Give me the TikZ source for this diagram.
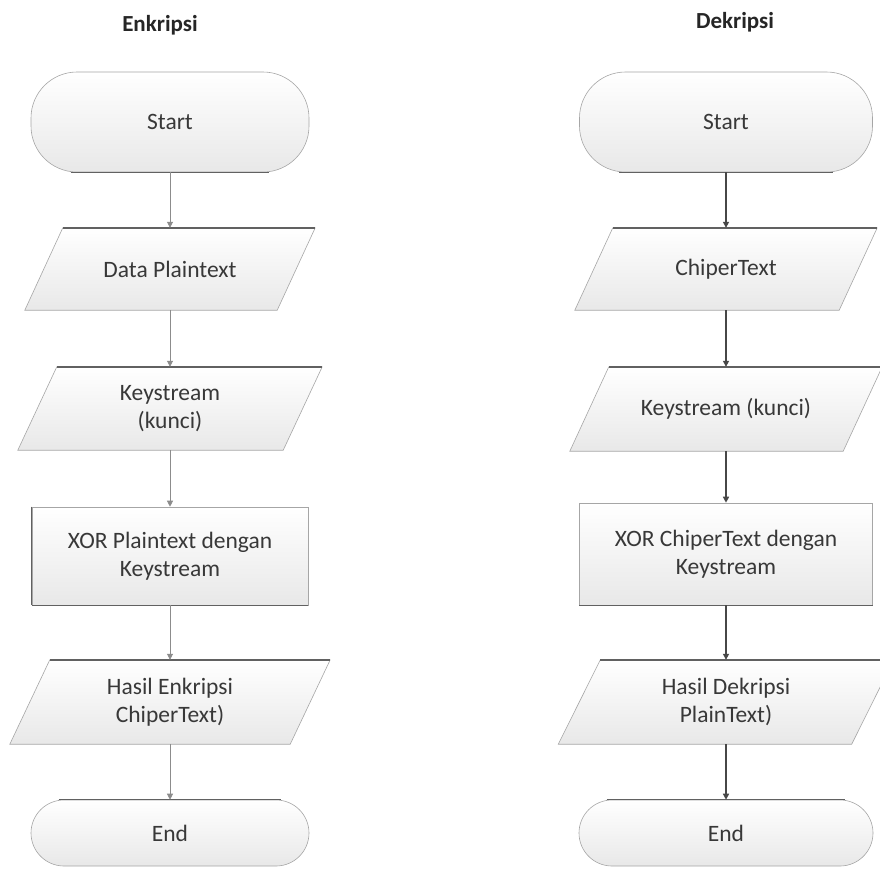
\documentclass[tikz,border=0pt]{standalone}
\usepackage{fontspec}
\setmainfont{Carlito}
\usetikzlibrary{arrows.meta,backgrounds}

% parallelogram (input/output) drawn around a named rectangle node
\newcommand\ioshape[2]{%
  \path[iofill] ([xshift=#2]#1.north west) -- ([xshift=#2]#1.north east)
     -- ([xshift=-#2]#1.south east) -- ([xshift=-#2]#1.south west) -- cycle;
  \draw[accent] ([xshift=#2]#1.north west) -- ([xshift=#2]#1.north east);
}
% dark rim along the flat bottom / top of a terminal or process box
\newcommand\bottomrim[2]{%
  \draw[accent] ([xshift=#2]#1.south west) -- ([xshift=-#2]#1.south east);
}
\newcommand\toprim[2]{%
  \draw[accent] ([xshift=#2]#1.north west) -- ([xshift=-#2]#1.north east);
}

\begin{document}
\begin{tikzpicture}[x=1pt,y=-1pt,
  base/.style={font=\fontsize{23.5}{28}\selectfont, text=black!78, align=center},
  term/.style={base, rectangle, rounded corners=46pt, draw=black!35, line width=0.6pt,
               top color=white, bottom color=black!9, minimum height=100pt},
  proc/.style={base, rectangle, draw=black!35, line width=0.6pt,
               top color=white, bottom color=black!9},
  io/.style={base, rectangle, inner sep=0pt},
  iofill/.style={draw=black!35, line width=0.6pt, top color=white, bottom color=black!9},
  accent/.style={draw=black!62, line width=1.4pt},
  lflow/.style={draw=black!45, line width=0.8pt, -{Triangle[length=6pt,width=6pt]}},
  rflow/.style={draw=black!72, line width=1.6pt, -{Triangle[length=6pt,width=6pt]}},
  title/.style={font=\bfseries\fontsize{23}{28}\selectfont, text=black!85}]

\useasboundingbox (0,0) rectangle (880,868);

% ---------- Enkripsi ----------
\node[title] (t1) at (160,25) {Enkripsi};
\node[term, minimum width=278pt] (s1) at (170,122) {Start};
\node[io, minimum width=252pt, minimum height=82pt] (d1) at (170,269) {Data Plaintext};
\node[io, minimum width=265pt, minimum height=83pt] (k1) at (170,408.5) {Keystream\\(kunci)};
\node[proc, minimum width=276pt, minimum height=98pt] (x1) at (170,556) {XOR Plaintext dengan\\Keystream};
\node[io, minimum width=280pt, minimum height=84pt] (h1) at (170,702) {Hasil Enkripsi\\ChiperText)};
\node[term, minimum width=278pt, minimum height=66pt, rounded corners=33pt] (e1) at (170,833) {End};

% ---------- Dekripsi ----------
\node[title] (t2) at (735,22) {Dekripsi};
\node[term, minimum width=293pt] (s2) at (726,122) {Start};
\node[io, minimum width=264pt, minimum height=82pt] (d2) at (726,269) {ChiperText};
\node[io, minimum width=273pt, minimum height=84pt] (k2) at (726,409) {Keystream (kunci)};
\node[proc, minimum width=293pt, minimum height=102pt] (x2) at (726,554) {XOR ChiperText dengan\\Keystream};
\node[io, minimum width=293pt, minimum height=84pt] (h2) at (726,702) {Hasil Dekripsi\\PlainText)};
\node[term, minimum width=294pt, minimum height=66pt, rounded corners=33pt] (e2) at (726,833) {End};

\begin{pgfonlayer}{background}
  \fill[white] (0,0) rectangle (880,868);
  \ioshape{d1}{19pt}
  \ioshape{k1}{19.5pt}
  \ioshape{h1}{20pt}
  \ioshape{d2}{19pt}
  \ioshape{k2}{19.5pt}
  \ioshape{h2}{21pt}
\end{pgfonlayer}

\bottomrim{s1}{40pt}
\bottomrim{s2}{40pt}
\bottomrim{x1}{0pt}
\bottomrim{x2}{0pt}
\draw[accent] (x1.north west) -- (x1.south west);
\toprim{e1}{28pt}
\toprim{e2}{28pt}

% ---------- connectors ----------
\draw[lflow] (s1.south) -- (d1.north);
\draw[lflow] (d1.south) -- (k1.north);
\draw[lflow] (k1.south) -- (x1.north);
\draw[lflow] (x1.south) -- (h1.north);
\draw[lflow] (h1.south) -- (e1.north);

\draw[rflow] (s2.south) -- (d2.north);
\draw[rflow] (d2.south) -- (k2.north);
\draw[rflow] (k2.south) -- (x2.north);
\draw[rflow] (x2.south) -- (h2.north);
\draw[rflow] (h2.south) -- (e2.north);
\end{tikzpicture}
\end{document}
